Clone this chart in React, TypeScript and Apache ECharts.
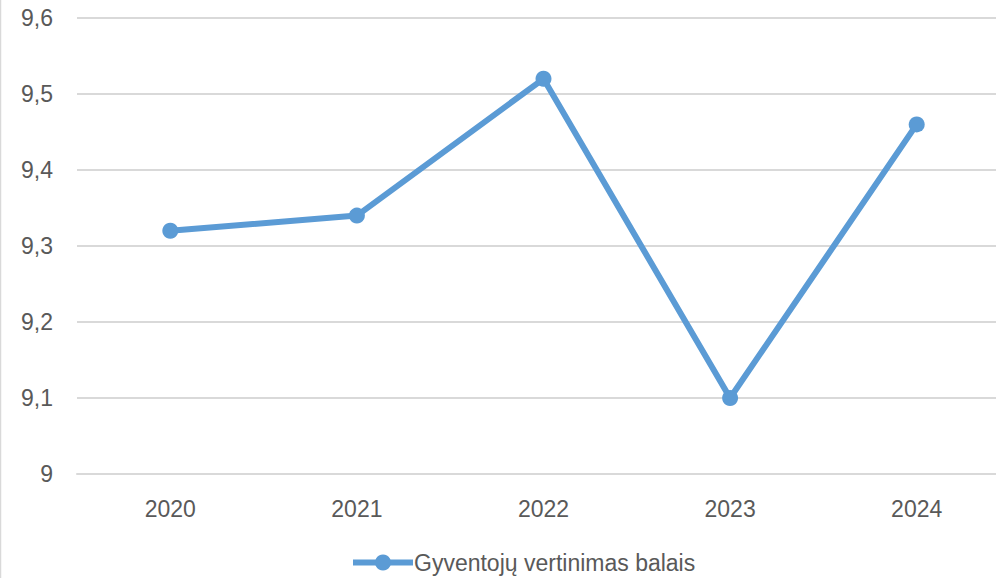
import React, { useEffect, useRef } from "react";
import * as echarts from "echarts";

const categories = ["2020", "2021", "2022", "2023", "2024"];
const values = [9.32, 9.34, 9.52, 9.1, 9.46];
const seriesName = "Gyventojų vertinimas balais";

export default function App() {
  const ref = useRef<HTMLDivElement>(null);
  useEffect(() => {
    if (!ref.current) return;
    const chart = echarts.init(ref.current, undefined, { renderer: "svg" });
    const font = "'Liberation Sans', Arial, sans-serif";
    chart.setOption({
      animation: false,
      backgroundColor: "#ffffff",
      textStyle: { fontFamily: font },
      grid: { left: 77, right: 0, top: 18, bottom: 104, containLabel: false },
      legend: {
        data: [seriesName],
        bottom: 4,
        left: 350,
        padding: 0,
        itemWidth: 60,
        itemHeight: 20,
        itemGap: 4,
        lineStyle: { width: 6 },
        textStyle: { color: "#595959", fontSize: 23, fontFamily: font, padding: [0, 0, 0, -4] },
      },
      xAxis: {
        type: "category",
        data: categories,
        boundaryGap: true,
        axisLine: { show: true, lineStyle: { color: "#d9d9d9", width: 2 } },
        axisTick: { show: false },
        axisLabel: { color: "#595959", fontSize: 23, margin: 23, fontFamily: font },
      },
      yAxis: {
        type: "value",
        min: 9,
        max: 9.6,
        interval: 0.1,
        axisLine: { show: false },
        axisTick: { show: false },
        splitLine: { lineStyle: { color: "#d9d9d9", width: 2 } },
        axisLabel: {
          color: "#595959",
          fontSize: 23,
          margin: 24,
          fontFamily: font,
          formatter: (v: number) => {
            const r = Math.round(v * 10) / 10;
            return r === Math.round(r) ? String(Math.round(r)) : r.toFixed(1).replace(".", ",");
          },
        },
      },
      graphic: [
        {
          type: "line",
          shape: { x1: 0.5, y1: 0, x2: 0.5, y2: 578 },
          style: { stroke: "#d9d9d9", lineWidth: 1.5 },
        },
      ],
      series: [
        {
          name: seriesName,
          type: "line",
          data: values,
          symbol: "circle",
          symbolSize: 16,
          itemStyle: { color: "#5b9bd5" },
          lineStyle: { color: "#5b9bd5", width: 6 },
        },
      ],
    });
    return () => chart.dispose();
  }, []);
  return (
    <div style={{ position: "absolute", left: 0, top: 0, width: 996, height: 578, overflow: "hidden" }}>
      <div ref={ref} style={{ width: 1010, height: 578 }} />
    </div>
  );
}
